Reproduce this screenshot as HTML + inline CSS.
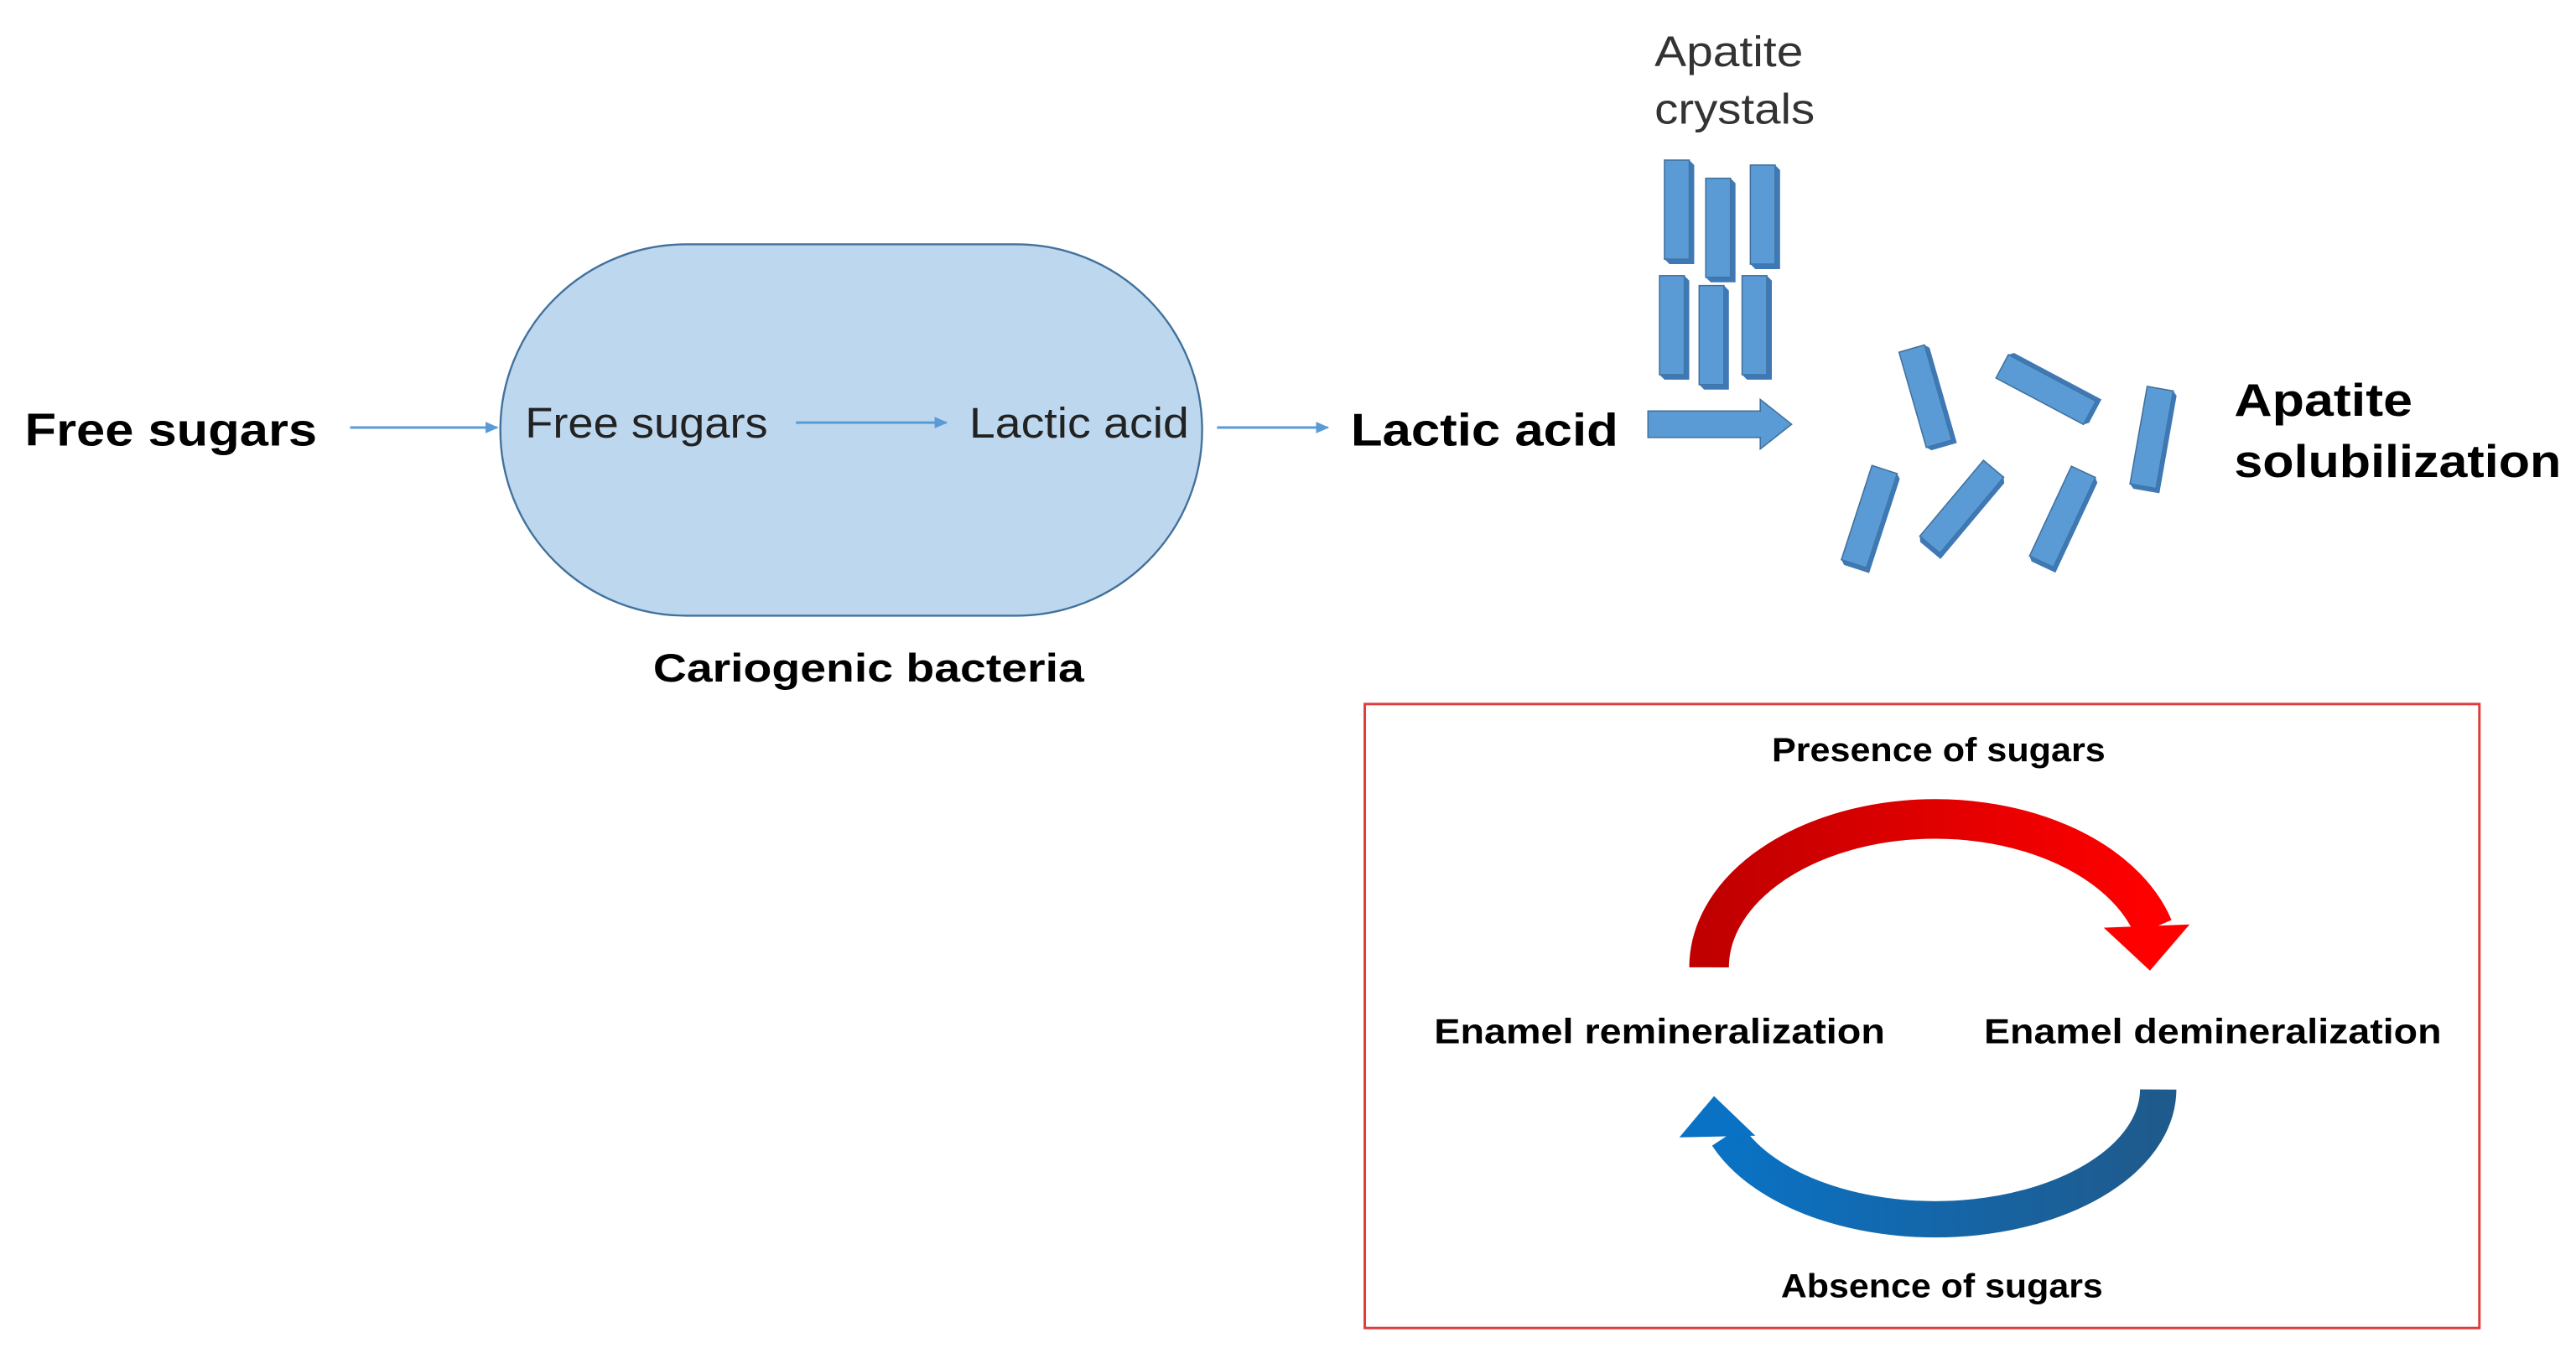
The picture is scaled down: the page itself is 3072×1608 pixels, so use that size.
<!DOCTYPE html>
<html><head><meta charset="utf-8">
<style>html,body{margin:0;padding:0;background:#fff;}svg{display:block;}</style>
</head><body>
<svg width="3072" height="1608" viewBox="0 0 1560 816.6" preserveAspectRatio="none" xmlns="http://www.w3.org/2000/svg" font-family="Liberation Sans, Arial, sans-serif">
<defs>
<marker id="ah" markerWidth="8" markerHeight="8" refX="7" refY="4" orient="auto" markerUnits="userSpaceOnUse"><path d="M0,0.5 L8,4 L0,7.5 Z" fill="#5b9bd5"/></marker>
<linearGradient id="rg" x1="0" x2="1" y1="0" y2="0"><stop offset="0" stop-color="#c00000"/><stop offset="1" stop-color="#ff0000"/></linearGradient>
<linearGradient id="bg" x1="0" x2="1" y1="0" y2="0"><stop offset="0" stop-color="#0a72c4"/><stop offset="1" stop-color="#1f5a8c"/></linearGradient>
<g id="bar"><rect x="-8" y="-30" width="16" height="60" fill="#5b9bd5" stroke="#41719c" stroke-width="0.8"/><path d="M8,-30 L10.5,-27.5 L10.5,32 L8,30 Z M-8,30 L-5.5,32.5 L10.5,32.5 L10.5,32 L8,30 Z" fill="#3e79b5"/></g>
<g id="vb"><rect x="0" y="0" width="15" height="60" fill="#5b9bd5" stroke="#41719c" stroke-width="0.8"/><path d="M15,0 L18,3 L18,63 L15,60 Z M0,60 L3,63 L18,63 L15,60 Z" fill="#3e79b5"/></g>
</defs>

<text x="15" y="270" font-size="28" font-weight="bold" textLength="177" lengthAdjust="spacingAndGlyphs">Free sugars</text>
<line x1="212" y1="259" x2="301" y2="259" stroke="#5b9bd5" stroke-width="1.5" marker-end="url(#ah)"/>
<rect x="303" y="148" width="425" height="225" rx="112.5" ry="112.5" fill="#bdd7ee" stroke="#41719c" stroke-width="1.2"/>
<text x="318" y="265" font-size="26" fill="#222" textLength="147" lengthAdjust="spacingAndGlyphs">Free sugars</text>
<line x1="482" y1="256" x2="573" y2="256" stroke="#5b9bd5" stroke-width="1.5" marker-end="url(#ah)"/>
<text x="587" y="265" font-size="26" fill="#222" textLength="133" lengthAdjust="spacingAndGlyphs">Lactic acid</text>
<text x="526" y="413" font-size="24" font-weight="bold" text-anchor="middle" textLength="261" lengthAdjust="spacingAndGlyphs">Cariogenic bacteria</text>
<line x1="737" y1="259" x2="804" y2="259" stroke="#5b9bd5" stroke-width="1.5" marker-end="url(#ah)"/>
<text x="818" y="270" font-size="28" font-weight="bold" textLength="162" lengthAdjust="spacingAndGlyphs">Lactic acid</text>

<text x="1002" y="40" font-size="26" fill="#333" textLength="90" lengthAdjust="spacingAndGlyphs">Apatite</text>
<text x="1002" y="75" font-size="26" fill="#333" textLength="97" lengthAdjust="spacingAndGlyphs">crystals</text>
<use href="#vb" x="1008" y="97"/>
<use href="#vb" x="1033" y="108"/>
<use href="#vb" x="1060" y="100"/>
<use href="#vb" x="1005" y="167"/>
<use href="#vb" x="1029" y="173"/>
<use href="#vb" x="1055" y="167"/>
<path d="M998,249 L1066,249 L1066,242 L1085,257 L1066,272 L1066,265 L998,265 Z" fill="#5b9bd5" stroke="#41719c" stroke-width="0.8"/>

<use href="#bar" transform="translate(1166,240) rotate(-16)"/>
<use href="#bar" transform="translate(1239,236) rotate(-62)"/>
<use href="#bar" transform="translate(1303,265) rotate(10)"/>
<use href="#bar" transform="translate(1132,313) rotate(18)"/>
<use href="#bar" transform="translate(1188,307) rotate(40)"/>
<use href="#bar" transform="translate(1249,313) rotate(25)"/>

<text x="1353" y="252" font-size="28" font-weight="bold" textLength="108" lengthAdjust="spacingAndGlyphs">Apatite</text>
<text x="1353" y="289" font-size="28" font-weight="bold" textLength="198" lengthAdjust="spacingAndGlyphs">solubilization</text>

<rect x="826.5" y="426.5" width="675" height="378" fill="none" stroke="#e03a3a" stroke-width="1.5"/>
<text x="1174" y="461" font-size="20" font-weight="bold" text-anchor="middle" textLength="202" lengthAdjust="spacingAndGlyphs">Presence of sugars</text>
<path d="M1035,586 A137,90 0 0 1 1304,562" fill="none" stroke="url(#rg)" stroke-width="24"/>
<polygon points="1274,562 1326,560 1302,588" fill="#ff0000"/>
<text x="1005" y="632" font-size="21" font-weight="bold" text-anchor="middle" textLength="273" lengthAdjust="spacingAndGlyphs">Enamel remineralization</text>
<text x="1340" y="632" font-size="21" font-weight="bold" text-anchor="middle" textLength="277" lengthAdjust="spacingAndGlyphs">Enamel demineralization</text>
<path d="M1307,660 A135,79 0 0 1 1046,688" fill="none" stroke="url(#bg)" stroke-width="22"/>
<polygon points="1017,689 1063,688 1038,664" fill="#0a72c4"/>
<text x="1176" y="786" font-size="20" font-weight="bold" text-anchor="middle" textLength="195" lengthAdjust="spacingAndGlyphs">Absence of sugars</text>
</svg>
</body></html>
